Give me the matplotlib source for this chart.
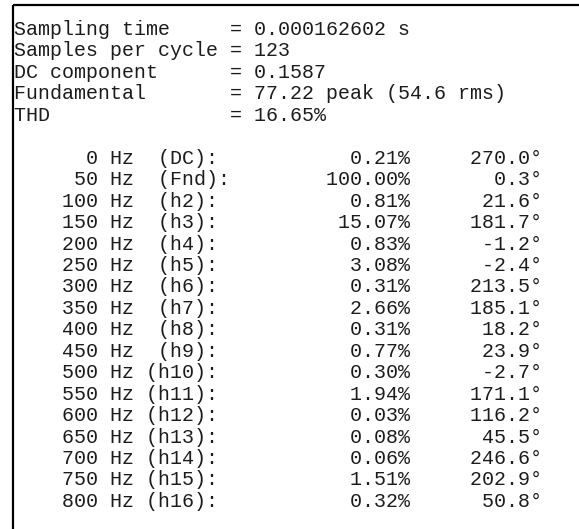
import matplotlib
matplotlib.use("Agg")
import matplotlib.pyplot as plt

# summary lines
summary_names = ["Sampling time", "Samples per cycle", "DC component", "Fundamental", "THD"]
summary_values = ["0.000162602 s", "123", "0.1587", "77.22 peak (54.6 rms)", "16.65%"]

# harmonic table
freqs = [0, 50, 100, 150, 200, 250, 300, 350, 400, 450, 500, 550, 600, 650, 700, 750, 800]
labels = ["DC", "Fnd", "h2", "h3", "h4", "h5", "h6", "h7", "h8", "h9",
          "h10", "h11", "h12", "h13", "h14", "h15", "h16"]
mags = [0.21, 100.00, 0.81, 15.07, 0.83, 3.08, 0.31, 2.66, 0.31, 0.77,
        0.30, 1.94, 0.03, 0.08, 0.06, 1.51, 0.32]
phases = [270.0, 0.3, 21.6, 181.7, -1.2, -2.4, 213.5, 185.1, 18.2, 23.9,
          -2.7, 171.1, 116.2, 45.5, 246.6, 202.9, 50.8]

lines = []
for name, val in zip(summary_names, summary_values):
    lines.append(f"{name:<18s}= {val}")
lines.append("")
for f, lab, m, p in zip(freqs, labels, mags, phases):
    sep = " " if (lab.startswith("h") and len(lab) == 3) else "  "
    left = f"{f:7d} Hz{sep}({lab}):"
    lines.append(f"{left:<26s}{m:6.2f}%{p:10.1f}°")

W, H, DPI = 579, 529, 100
fig = plt.figure(figsize=(W / DPI, H / DPI), dpi=DPI)
ax = fig.add_axes([0, 0, 1, 1])
ax.set_xlim(0, W)
ax.set_ylim(H, 0)
ax.axis("off")

# window frame (top and left edges)
ax.plot([13, W], [5, 5], color="black", lw=1.6, solid_capstyle="butt")
ax.plot([13, 13], [5, H], color="black", lw=1.6, solid_capstyle="butt")

fs = 20 * 72 / DPI  # 12 px per character cell
y0, step = 35, 21.45
for i, s in enumerate(lines):
    ax.text(13.5, y0 + i * step, s, fontsize=fs, family="Liberation Mono",
            color="#1c1c1c", ha="left", va="baseline")

fig.savefig("out.png", dpi=DPI)
